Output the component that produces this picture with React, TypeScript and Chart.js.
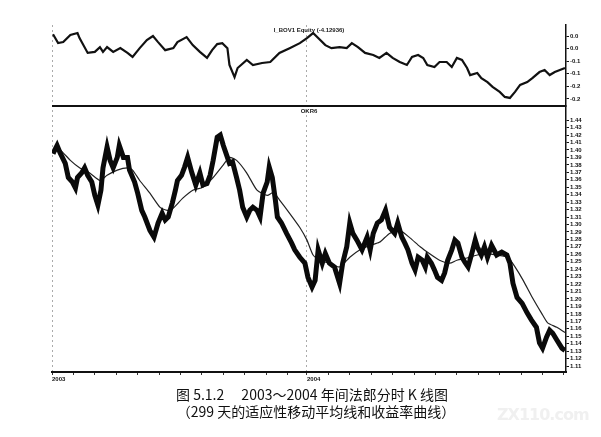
import React, { useEffect, useRef } from "react";
import { Chart, registerables } from "chart.js";

Chart.register(...registerables);

// ---- Upper pane: equity curve (trading day index, value)
const equityDays = [1, 6, 11, 18, 25, 27, 35, 42, 47, 50, 54, 60, 67, 74, 79, 86, 93, 99, 104, 111, 119, 123, 132, 138, 145, 152, 157, 162, 167, 172, 174, 179, 182, 191, 197, 206, 214, 223, 233, 243, 250, 256, 261, 268, 274, 282, 289, 294, 300, 307, 315, 321, 328, 334, 341, 348, 353, 359, 364, 368, 375, 380, 387, 392, 397, 402, 407, 410, 417, 421, 427, 432, 439, 444, 449, 454, 459, 466, 471, 478, 483, 488, 493, 498, 503];
const equityValues = [0.057, 0.022, 0.026, 0.054, 0.062, 0.042, -0.017, -0.013, 0.006, -0.013, 0.006, -0.013, 0.002, -0.017, -0.033, 0.002, 0.034, 0.05, 0.026, -0.006, 0.002, 0.026, 0.046, 0.014, -0.013, -0.037, -0.006, 0.018, 0.022, 0.002, -0.065, -0.113, -0.077, -0.045, -0.065, -0.057, -0.053, -0.017, 0.002, 0.022, 0.042, 0.062, 0.042, 0.014, 0.002, 0.006, 0.002, 0.022, 0.006, -0.017, -0.025, -0.037, -0.017, -0.037, -0.053, -0.065, -0.033, -0.025, -0.037, -0.065, -0.073, -0.053, -0.053, -0.073, -0.037, -0.045, -0.077, -0.105, -0.097, -0.117, -0.133, -0.152, -0.172, -0.192, -0.196, -0.172, -0.144, -0.133, -0.117, -0.093, -0.085, -0.105, -0.093, -0.085, -0.077];

// ---- Lower pane: price and 299-day adaptive MA
const priceDays = [1, 5, 8, 13, 16, 20, 23, 25, 29, 32, 35, 39, 42, 45, 48, 50, 54, 57, 60, 64, 66, 70, 74, 76, 81, 84, 88, 91, 96, 100, 104, 108, 111, 114, 118, 121, 123, 127, 130, 133, 137, 141, 145, 148, 152, 155, 158, 162, 165, 168, 172, 174, 177, 181, 184, 187, 191, 194, 197, 201, 204, 207, 211, 213, 216, 219, 221, 225, 230, 235, 238, 243, 248, 251, 255, 258, 261, 265, 268, 272, 277, 282, 285, 289, 292, 295, 299, 304, 309, 312, 315, 319, 323, 327, 331, 336, 339, 343, 346, 349, 353, 356, 359, 363, 366, 368, 372, 375, 378, 382, 385, 388, 392, 395, 398, 402, 405, 408, 412, 415, 417, 421, 424, 427, 431, 436, 441, 446, 449, 452, 456, 461, 466, 470, 475, 478, 481, 485, 488, 491, 495, 500, 503];
const priceValues = [1.395, 1.406, 1.396, 1.382, 1.363, 1.357, 1.349, 1.363, 1.369, 1.376, 1.366, 1.357, 1.339, 1.326, 1.346, 1.376, 1.404, 1.386, 1.376, 1.39, 1.406, 1.39, 1.39, 1.373, 1.357, 1.342, 1.319, 1.31, 1.292, 1.283, 1.302, 1.315, 1.306, 1.31, 1.329, 1.346, 1.359, 1.366, 1.377, 1.39, 1.37, 1.353, 1.369, 1.353, 1.355, 1.366, 1.386, 1.417, 1.42, 1.406, 1.39, 1.382, 1.384, 1.363, 1.346, 1.323, 1.31, 1.319, 1.323, 1.319, 1.31, 1.342, 1.357, 1.377, 1.363, 1.333, 1.31, 1.302, 1.288, 1.275, 1.266, 1.256, 1.248, 1.229, 1.216, 1.225, 1.266, 1.248, 1.261, 1.248, 1.243, 1.221, 1.248, 1.27, 1.302, 1.288, 1.279, 1.266, 1.283, 1.266, 1.288, 1.302, 1.306, 1.319, 1.296, 1.288, 1.302, 1.283, 1.275, 1.266, 1.248, 1.239, 1.256, 1.252, 1.243, 1.256, 1.248, 1.239, 1.229, 1.225, 1.235, 1.252, 1.266, 1.279, 1.275, 1.256, 1.249, 1.243, 1.263, 1.279, 1.27, 1.259, 1.27, 1.256, 1.272, 1.259, 1.263, 1.259, 1.248, 1.221, 1.202, 1.194, 1.181, 1.172, 1.162, 1.141, 1.134, 1.149, 1.158, 1.154, 1.145, 1.134, 1.131];

const maDays = [1, 8, 18, 27, 37, 47, 54, 64, 74, 79, 86, 96, 106, 113, 119, 128, 138, 148, 158, 168, 174, 181, 191, 201, 211, 217, 223, 233, 243, 250, 256, 263, 272, 282, 292, 302, 312, 321, 331, 341, 351, 361, 370, 380, 390, 397, 407, 417, 426, 436, 447, 454, 462, 471, 480, 486, 495, 503];
const maValues = [1.402, 1.4, 1.386, 1.376, 1.369, 1.359, 1.366, 1.373, 1.376, 1.373, 1.359, 1.342, 1.323, 1.319, 1.322, 1.335, 1.346, 1.35, 1.363, 1.38, 1.39, 1.386, 1.369, 1.346, 1.339, 1.343, 1.333, 1.315, 1.296, 1.279, 1.259, 1.252, 1.248, 1.243, 1.256, 1.266, 1.272, 1.276, 1.288, 1.292, 1.282, 1.27, 1.261, 1.252, 1.248, 1.252, 1.255, 1.259, 1.261, 1.259, 1.256, 1.243, 1.225, 1.202, 1.181, 1.168, 1.162, 1.155];

// ---- Axes
const xTickDays = [0, 21, 42, 63, 84, 105, 126, 147, 168, 189, 210, 231, 250, 271, 292, 313, 334, 355, 376, 397, 418, 439, 460, 481, 502];
const xYearDays = [0, 250];
const xYearLabels = ["2003", "2004"];

const topTickValues = [0.05, 0, -0.05, -0.1, -0.15, -0.2];
const topTickLabels = ["0.0", "0.0", "-0.1", "-0.1", "-0.2", "-0.2"];

const botTickValues = [1.44, 1.43, 1.42, 1.41, 1.4, 1.39, 1.38, 1.37, 1.36, 1.35, 1.34, 1.33, 1.32, 1.31, 1.3, 1.29, 1.28, 1.27, 1.26, 1.25, 1.24, 1.23, 1.22, 1.21, 1.2, 1.19, 1.18, 1.17, 1.16, 1.15, 1.14, 1.13, 1.12, 1.11];

const equityTitle = "I_BOV1 Equity (-4.12936)";
const priceTitle = "OKR6";
const captionLine1 = "图 5.1.2\u2003 2003～2004 年间法郎分时 K 线图";
const captionLine2 = "（299 天的适应性移动平均线和收益率曲线）";
const watermark = "ZX110.com";

const zip = (xs: number[], ys: number[]) => xs.map((x, i) => ({ x, y: ys[i] }));

const paneDecor = {
  id: "paneDecor",
  afterDatasetsDraw(chart: any) {
    const { ctx, chartArea, scales } = chart;
    const yTop = scales.yTop;
    const cx = (chartArea.left + chartArea.right) / 2;
    ctx.save();
    ctx.strokeStyle = "#111";
    ctx.lineWidth = 2;
    ctx.beginPath();
    ctx.moveTo(chartArea.left, yTop.bottom);
    ctx.lineTo(chartArea.right, yTop.bottom);
    ctx.stroke();
    ctx.fillStyle = "#222";
    ctx.font = "bold 6px 'Liberation Sans', Arial, sans-serif";
    ctx.textAlign = "center";
    ctx.textBaseline = "middle";
    ctx.fillText(equityTitle, cx, yTop.top + 5);
    ctx.fillText(priceTitle, cx, yTop.bottom + 5);
    ctx.restore();
  },
};

export default function App() {
  const ref = useRef<HTMLCanvasElement>(null);

  useEffect(() => {
    document.body.style.margin = "0";
    const canvas = ref.current;
    if (!canvas) return;
    const tickFont = { size: 6, weight: "bold" as const, family: "'Liberation Sans', Arial, sans-serif" };
    const chart = new Chart(canvas, {
      type: "line",
      data: {
        datasets: [
          {
            label: "Equity",
            data: zip(equityDays, equityValues),
            xAxisID: "x",
            yAxisID: "yTop",
            borderColor: "#111",
            borderWidth: 2.2,
            pointRadius: 0,
            tension: 0,
          },
          {
            label: "Price",
            data: zip(priceDays, priceValues),
            xAxisID: "x",
            yAxisID: "yBot",
            borderColor: "#0a0a0a",
            borderWidth: 5,
            pointRadius: 0,
            tension: 0,
          },
          {
            label: "MA299",
            data: zip(maDays, maValues),
            xAxisID: "x",
            yAxisID: "yBot",
            borderColor: "#222",
            borderWidth: 1.2,
            pointRadius: 0,
            tension: 0.2,
          },
        ],
      },
      options: {
        animation: false,
        responsive: false,
        maintainAspectRatio: false,
        layout: { padding: { top: 25, left: 52, right: 5, bottom: 6 } },
        plugins: { legend: { display: false }, tooltip: { enabled: false }, title: { display: false } },
        scales: {
          x: {
            type: "linear",
            min: 0,
            max: 504,
            position: "bottom",
            border: { display: true, color: "#111", width: 2, dash: [2, 3] },
            afterBuildTicks: (scale: any) => {
              scale.ticks = xTickDays.map((v) => ({ value: v }));
            },
            afterFit: (scale: any) => {
              scale.height = 14;
            },
            grid: {
              drawOnChartArea: true,
              drawTicks: true,
              tickLength: 3,
              color: (c: any) => (c.tick && xYearDays.includes(c.tick.value) ? "#aaa" : "rgba(0,0,0,0)"),
              tickColor: "#333",
              lineWidth: 1,
            },
            ticks: {
              autoSkip: false,
              maxRotation: 0,
              align: "start",
              padding: 1,
              color: "#111",
              font: tickFont,
              callback: (v: any) => {
                const i = xYearDays.indexOf(Number(v));
                return i >= 0 ? xYearLabels[i] : "";
              },
            },
          },
          yTop: {
            type: "linear",
            position: "right",
            stack: "panes",
            stackWeight: 81,
            min: -0.228,
            max: 0.094,
            border: { display: true, color: "#111", width: 1.5 },
            afterBuildTicks: (scale: any) => {
              scale.ticks = topTickValues.map((v) => ({ value: v }));
            },
            afterFit: (scale: any) => {
              scale.width = 30;
            },
            grid: { drawOnChartArea: false, drawTicks: true, tickLength: 3, color: "#111" },
            ticks: {
              autoSkip: false,
              padding: 1,
              color: "#111",
              font: tickFont,
              callback: (v: any) => {
                const i = topTickValues.findIndex((t) => Math.abs(t - Number(v)) < 1e-9);
                return i >= 0 ? topTickLabels[i] : "";
              },
            },
          },
          yBot: {
            type: "linear",
            position: "right",
            stack: "panes",
            stackWeight: 266,
            min: 1.102,
            max: 1.459,
            border: { display: true, color: "#111", width: 1.5 },
            afterBuildTicks: (scale: any) => {
              scale.ticks = botTickValues.map((v) => ({ value: v }));
            },
            afterFit: (scale: any) => {
              scale.width = 30;
            },
            grid: { drawOnChartArea: false, drawTicks: true, tickLength: 3, color: "#111" },
            ticks: {
              autoSkip: false,
              padding: 1,
              color: "#111",
              font: tickFont,
              callback: (v: any) => Number(v).toFixed(2),
            },
          },
        },
      },
      plugins: [paneDecor],
    } as any);
    return () => chart.destroy();
  }, []);

  const cjk = "'Noto Sans CJK SC', 'Noto Sans', serif";
  return (
    <div style={{ position: "relative", width: 601, height: 437, background: "#fff", overflow: "hidden" }}>
      <canvas ref={ref} width={601} height={392} style={{ position: "absolute", left: 0, top: 0, width: 601, height: 392 }} />
      <div style={{ position: "absolute", top: 386, left: 0, width: 624, textAlign: "center", fontFamily: cjk, fontSize: 14, lineHeight: "17px", color: "#111", whiteSpace: "pre" }}>
        {captionLine1}
      </div>
      <div style={{ position: "absolute", top: 403, left: 0, width: 632, textAlign: "center", fontFamily: cjk, fontSize: 14, lineHeight: "17px", color: "#111", whiteSpace: "pre" }}>
        {captionLine2}
      </div>
      <div style={{ position: "absolute", top: 405, left: 497, fontFamily: "'DejaVu Sans', sans-serif", fontWeight: "bold", fontSize: 16, color: "#f0f0f0", letterSpacing: -1 }}>
        {watermark}
      </div>
    </div>
  );
}
